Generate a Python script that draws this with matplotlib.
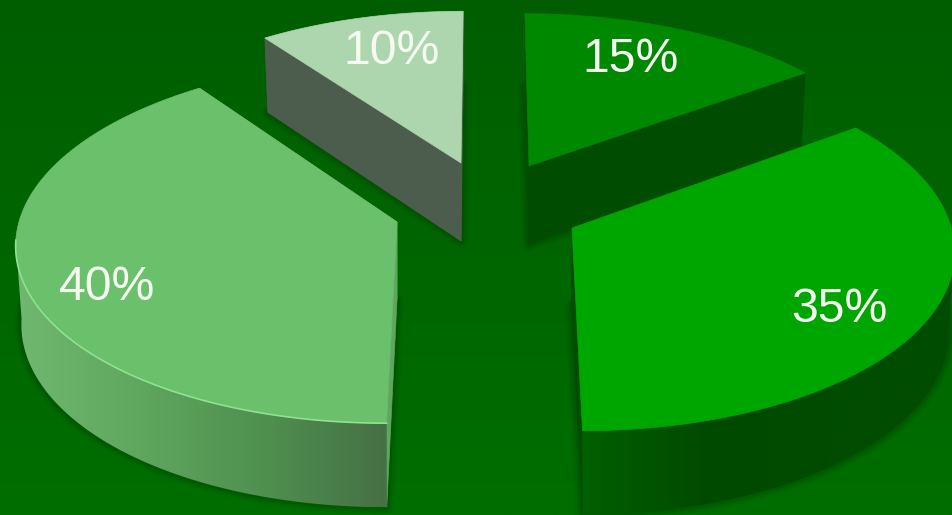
import numpy as np
import matplotlib
matplotlib.use('Agg')
import matplotlib.pyplot as plt
from matplotlib.patches import Polygon
from matplotlib.colors import LinearSegmentedColormap

# pie data, clockwise from 12 o'clock
shares = [15, 35, 40, 10]
labels = ['15%', '35%', '40%', '10%']

# layout, in pixels of the 952x515 picture
apexes = [(529, 166), (572, 228), (397, 222), (461, 163)]
label_pos = [(631, 60), (839, 309), (107, 288), (392, 51)]
top_colors = ['#008800', '#00a600', '#6bc06b', '#aed6ae']
cut_colors = ['#004c00', '#004c00', '#5fa65f', '#4d5d4d']
wall_stops = [['#004c00', '#004c00'],
              ['#006000', '#004a00', '#004c00', '#004c00'],
              ['#70b870', '#5fa65f', '#4f904f', '#467046'],
              ['#4d5d4d', '#4d5d4d']]
draw_order = [3, 0, 2, 1]

CX, CY = 484.5, 195.0
RX, RY, PERSP = 372.0, 174.0, 0.105
THICK = 78.0


def to_ground(px, py):
    dx, dy = px - CX, CY - py
    v = (dy/RY)/(1 - PERSP*dy/RY)
    return dx*(1 + PERSP*v)/RX, v


def to_screen(u, v):
    w = 1 + PERSP*v
    return CX + RX*u/w, CY - RY*v/w


def lower(x, y, apex):
    # same point on the underside of the disc
    return x - 0.015*(x - apex[0]), y + THICK + 0.03*(y - apex[1])


def gradient_fill(ax, pts, stops):
    poly = Polygon(pts, closed=True, fc='none', ec='none')
    ax.add_patch(poly)
    cmap = LinearSegmentedColormap.from_list('w', stops)
    xs = [p[0] for p in pts]
    ys = [p[1] for p in pts]
    im = ax.imshow(np.linspace(0, 1, 256).reshape(1, -1), cmap=cmap, aspect='auto',
                   extent=(min(xs), max(xs), max(ys), min(ys)), zorder=2)
    im.set_clip_path(poly)


fig = plt.figure(figsize=(9.52, 5.15), dpi=100)
ax = fig.add_axes([0, 0, 1, 1])
ax.axis('off')

bg = LinearSegmentedColormap.from_list('bg', ['#005e00', '#006600', '#006e00'])
ax.imshow(np.linspace(0, 1, 256).reshape(-1, 1), cmap=bg, aspect='auto',
          extent=(0, 952, 515, 0), zorder=0)

edges = np.radians(np.cumsum([0] + shares)*3.6)

for i in draw_order:
    apex = apexes[i]
    u0, v0 = to_ground(*apex)
    th = np.linspace(edges[i], edges[i+1], 160)
    rx, ry = to_screen(u0 + np.sin(th), v0 + np.cos(th))
    rim = list(zip(rx, ry))
    low = [lower(x, y, apex) for x, y in rim]
    ap_low = lower(apex[0], apex[1], apex)
    z = 2

    # soft shadow round the underside
    for lw, alpha in [(10, 0.08), (7, 0.10), (4, 0.14)]:
        ax.add_patch(Polygon([ap_low] + low, closed=True, fc='none', ec='#003000',
                             lw=lw, alpha=alpha, zorder=1, joinstyle='round'))

    # the two cut faces
    for end in (0, -1):
        ax.add_patch(Polygon([apex, rim[end], low[end], ap_low], closed=True,
                             fc=cut_colors[i], ec=cut_colors[i], lw=0.5, zorder=z))

    # outer wall, only the part that faces the viewer
    front = np.cos(th) < -0.1
    if front.any():
        rim_f = [p for p, f in zip(rim, front) if f]
        low_f = [p for p, f in zip(low, front) if f]
        gradient_fill(ax, rim_f + low_f[::-1], wall_stops[i])
        if i == 2:
            ax.plot([p[0] for p in rim_f], [p[1] for p in rim_f], color='#8fe28f',
                    lw=1.2, zorder=4)

    ax.add_patch(Polygon([apex] + rim, closed=True, fc=top_colors[i], ec=top_colors[i],
                         lw=0.5, zorder=3))

for lab, pos in zip(labels, label_pos):
    ax.text(pos[0], pos[1], lab, color='#f6fbf2', fontsize=34.7, family='Liberation Sans',
            ha='center', va='center', zorder=5)

ax.set_xlim(0, 952)
ax.set_ylim(515, 0)
fig.savefig('out.png', dpi=100)
